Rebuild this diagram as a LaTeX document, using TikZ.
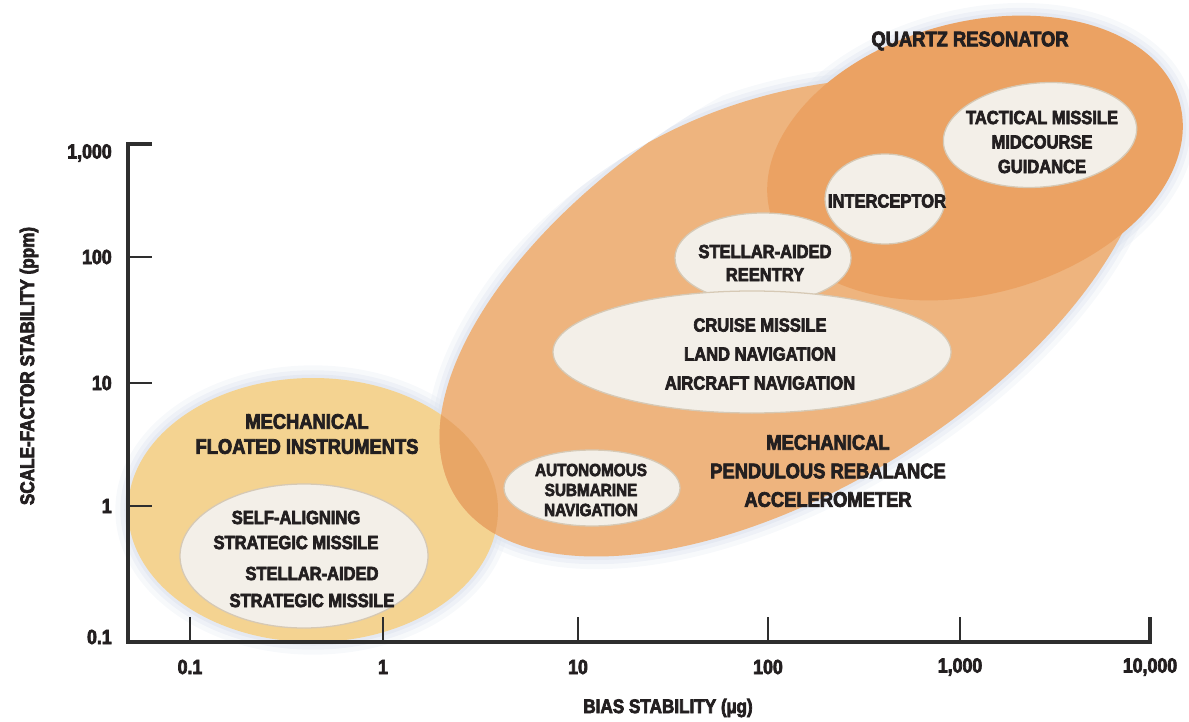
\documentclass[tikz,border=0pt]{standalone}
\usepackage{fontspec}
\setmainfont{Liberation Sans}[FakeStretch=0.87, BoldFeatures={FakeBold=3.5}]
\usepackage{tikz}

\definecolor{ink}{HTML}{231F20}
\definecolor{floatfill}{HTML}{F4D391}
\definecolor{pendfill}{HTML}{EEB47E}
\definecolor{quartzfill}{HTML}{EBA263}
\definecolor{mixfill}{HTML}{E8A666}
\definecolor{spotfill}{HTML}{F3EFE8}
\definecolor{spotedge}{HTML}{D6C9B5}
\definecolor{haze}{HTML}{D9E0EC}
\definecolor{axisgray}{HTML}{2E2E2E}

\newcommand{\spot}[5] % x, y, x radius, y radius, tilt in degrees
{
	\filldraw[spot, rotate around={#5:(#1,#2)}] (#1,#2) ellipse ({#3} and {#4});
}

\begin{document}
\begin{tikzpicture}[x=0.025cm, y=-0.025cm,
	every node/.style={text=ink, inner sep=0pt, align=center},
	spot/.style={fill=spotfill, draw=spotedge, line width=0.9pt},
	headtext/.style={font=\fontsize{15}{#1}\selectfont\bfseries}, headtext/.default=18,
	spottext/.style={font=\fontsize{13.5}{#1}\selectfont\bfseries}, spottext/.default=17.5,
	ticklabel/.style={font=\fontsize{14.5}{17}\selectfont\bfseries},
	axistitle/.style={font=\fontsize{14}{17}\selectfont\bfseries},
	axisline/.style={draw=axisgray, line width=3.2pt, line join=miter},
	tickmark/.style={draw=axisgray, line width=2pt},
	pendtilt/.style={rotate around={32:(795,285)}}]
	% pixel grid, 1189 x 722, y down
	\useasboundingbox (0,0) rectangle (1189,722);

	% soft glow round the regions
	\foreach \w/\o in {18/0.2, 11/0.3, 5/0.45}
	{
		\draw[haze, line width=\w pt, opacity=\o] (313,510) ellipse (185 and 132);
		\draw[haze, line width=\w pt, opacity=\o, rotate around={15:(975,158)}] (975,158) ellipse (212 and 136);
	}
	\begin{scope}
		\clip (900,600) circle (522);
		\foreach \w/\o in {18/0.2, 11/0.3, 5/0.45}
			\draw[haze, line width=\w pt, opacity=\o, pendtilt] (795,285) ellipse (400 and 200);
	\end{scope}
	\begin{scope}
		\clip[pendtilt] (795,285) ellipse (400 and 200);
		\foreach \w/\o in {18/0.2, 11/0.3, 5/0.45}
			\draw[haze, line width=\w pt, opacity=\o] (900,600) circle (522);
	\end{scope}

	% regions
	\fill[floatfill] (313,510) ellipse (185 and 132);
	\begin{scope}
		\clip (900,600) circle (522);
		\fill[pendfill, pendtilt] (795,285) ellipse (400 and 200);
		\clip (313,510) ellipse (185 and 132);
		\fill[mixfill, pendtilt] (795,285) ellipse (400 and 200);
	\end{scope}
	\fill[quartzfill, rotate around={15:(975,158)}] (975,158) ellipse (212 and 136);

	% applications
	\spot{1040}{135}{97}{52}{5}
	\spot{885}{199}{60}{45}{0}
	\spot{763}{258}{88}{45}{0}
	\spot{752}{352}{199}{61}{0}
	\spot{592}{488}{88}{38}{0}
	\spot{304}{556}{124}{72}{0}

	% axes
	\draw[axisline] (152,144) -- (128,144) -- (128,642) -- (1150,642) -- (1150,617);
	\foreach \xv/\val [count=\i] in {190/0.1, 383/1, 578/10, 768/100, 960/{1,000}, 1150/{10,000}}
	{
		\draw[tickmark] (\xv,642) -- (\xv,617);
		\node[ticklabel] (xl\i) at (\xv,667) {\val};
	}
	\foreach \yv/\ly/\val [count=\i] in {144/153/{1,000}, 257/257/100, 383/383/10, 506/506/1, 642/637/0.1}
	{
		\draw[tickmark] (128,\yv) -- (152,\yv);
		\node[ticklabel, anchor=east] (yl\i) at (112,\ly) {\val};
	}
	\node[axistitle] (xtitle) at (668,708) {BIAS STABILITY (µg)};
	\node[axistitle, rotate=90] (ytitle) at (29,366) {SCALE-FACTOR STABILITY (ppm)};

	% labels
	\node[headtext=17.8] (floated) at (307,434) {MECHANICAL\\FLOATED INSTRUMENTS};
	\node[headtext=20.3] (pendulous) at (828,471) {MECHANICAL\\PENDULOUS REBALANCE\\ACCELEROMETER};
	\node[headtext] (quartz) at (970,41) {QUARTZ RESONATOR};
	\node[spottext=17.4] (tactical) at (1042,142) {TACTICAL MISSILE\\MIDCOURSE\\GUIDANCE};
	\node[spottext] (intercept) at (887,201) {INTERCEPTOR};
	\node[spottext=16.4] (reentry) at (765,263) {STELLAR-AIDED\\REENTRY};
	\node[spottext=20.6] (cruise) at (760,354) {CRUISE MISSILE\\LAND NAVIGATION\\AIRCRAFT NAVIGATION};
	\node[font=\fontsize{12.5}{14.2}\selectfont\bfseries] (subnav) at (591,490) {AUTONOMOUS\\SUBMARINE\\NAVIGATION};
	\node[spottext=17.8] (selfalign) at (296,530) {SELF-ALIGNING\\STRATEGIC MISSILE};
	\node[spottext=19.2] (stellarsm) at (312,587) {STELLAR-AIDED\\STRATEGIC MISSILE};
\end{tikzpicture}
\end{document}
